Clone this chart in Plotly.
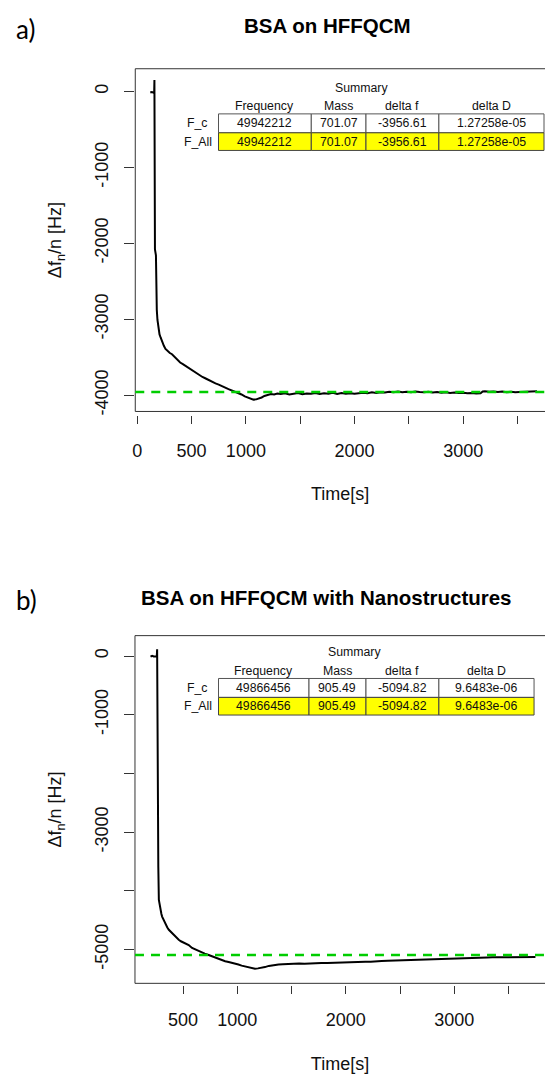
import plotly.graph_objects as go

W, H = 545, 1077

# ---------------- data ----------------
# a) BSA on HFFQCM : time [s] vs frequency shift per overtone [Hz]
time_a = [120, 135, 150, 156, 158, 160, 162, 163, 172, 174, 180, 186, 195, 205, 215, 230, 245,
          260, 280, 300, 320, 345, 370, 395, 420, 450, 480, 510, 540, 570, 600, 630, 660, 690,
          720, 750, 780, 810, 840, 870, 900, 930, 960, 990, 1020, 1045, 1070, 1095, 1120, 1145,
          1170, 1200, 1230, 1260, 1290, 1320, 1360, 1400, 1440, 1480, 1520, 1560, 1600, 1640,
          1680, 1720, 1760, 1800, 1840, 1880, 1920, 1960, 2000, 2040, 2080, 2120, 2160, 2200,
          2240, 2280, 2320, 2360, 2400, 2440, 2480, 2520, 2560, 2600, 2640, 2680, 2720, 2760,
          2800, 2840, 2880, 2920, 2960, 3000, 3040, 3080, 3120, 3160, 3180, 3200, 3240, 3280,
          3320, 3360, 3400, 3440, 3480, 3520, 3560, 3600, 3640, 3680]
freq_a = [-15, -8, -18, -10, 150, -300, -1500, -2080, -2160, -2800, -2880, -3010, -3140, -3200,
          -3240, -3300, -3350, -3390, -3420, -3445, -3460, -3500, -3540, -3570, -3590, -3620,
          -3650, -3680, -3700, -3735, -3760, -3780, -3805, -3820, -3845, -3860, -3885, -3900,
          -3920, -3935, -3950, -3970, -3990, -4015, -4035, -4050, -4058, -4055, -4045, -4030,
          -4010, -3995, -3985, -3990, -3978, -3985, -3975, -3990, -3980, -3970, -3988, -3978,
          -3982, -3970, -3985, -3975, -3980, -3968, -3985, -3972, -3980, -3975, -3982, -3970,
          -3968, -3975, -3962, -3970, -3960, -3965, -3955, -3960, -3952, -3962, -3955, -3960,
          -3950, -3958, -3962, -3955, -3965, -3958, -3968, -3960, -3970, -3965, -3972, -3968,
          -3975, -3970, -3978, -3975, -3950, -3948, -3955, -3950, -3958, -3952, -3960, -3955,
          -3962, -3958, -3955, -3950, -3955, -3948]

# b) BSA on HFFQCM with Nanostructures
time_b = [200, 215, 230, 245, 258, 261, 263, 265, 267, 272, 277, 285, 292, 300, 307, 315, 323,
          340, 355, 369, 385, 399, 420, 440, 460, 480, 500, 525, 552, 583, 610, 640, 670, 700,
          736, 770, 800, 830, 858, 888, 920, 950, 980, 1010, 1040, 1072, 1100, 1130, 1163, 1190,
          1220, 1255, 1290, 1320, 1347, 1380, 1420, 1470, 1520, 1570, 1620, 1670, 1720, 1775,
          1830, 1880, 1930, 1980, 2030, 2081, 2130, 2180, 2230, 2280, 2330, 2387, 2440, 2490,
          2540, 2590, 2640, 2693, 2740, 2790, 2840, 2890, 2940, 2998, 3050, 3100, 3150, 3200,
          3250, 3304, 3350, 3400, 3450, 3500, 3550, 3600, 3650, 3700, 3748]
freq_b = [-10, 5, -8, 0, -5, 115, -500, -2500, -3336, -3600, -4156, -4260, -4326, -4390, -4440,
          -4475, -4500, -4580, -4625, -4665, -4695, -4725, -4770, -4805, -4835, -4860, -4880,
          -4900, -4925, -4975, -5000, -5025, -5050, -5070, -5095, -5120, -5140, -5160, -5175,
          -5200, -5215, -5225, -5235, -5255, -5275, -5290, -5305, -5318, -5328, -5322, -5315,
          -5300, -5280, -5268, -5260, -5255, -5250, -5243, -5248, -5238, -5242, -5235, -5240,
          -5232, -5230, -5225, -5228, -5220, -5222, -5215, -5212, -5208, -5210, -5200, -5196,
          -5192, -5188, -5185, -5182, -5180, -5176, -5175, -5170, -5165, -5162, -5160, -5155,
          -5153, -5150, -5145, -5142, -5140, -5138, -5136, -5134, -5135, -5132, -5134, -5130,
          -5132, -5128, -5131, -5130]

# summary tables
table_cols = ["Frequency", "Mass", "delta f", "delta D"]
table_rows = ["F_c", "F_All"]
summary_a = ["49942212", "701.07", "-3956.61", "1.27258e-05"]
summary_b = ["49866456", "905.49", "-5094.82", "9.6483e-06"]

titles = ["BSA on HFFQCM", "BSA on HFFQCM with Nanostructures"]
panel_tags = ["a)", "b)"]
x_title = "Time[s]"
y_title = "\u0394f<sub>n</sub>/n [Hz]"

# labelled ticks and bare ticks (labels dropped where they would collide)
x_ticks_a = [0, 500, 1000, 2000, 3000]
x_bare_a = [1500, 2500, 3500]
x_ticks_b = [500, 1000, 2000, 3000]
x_bare_b = [1500, 2500, 3500]
y_ticks_a = [0, -1000, -2000, -3000, -4000]
y_bare_a = []
y_ticks_b = [0, -1000, -3000, -5000]
y_bare_b = [-2000, -4000]


# ---------------- helpers (pixel -> paper) ----------------
def px(x):
    return x / W


def py(y):
    return 1 - y / H


FONT = "Liberation Sans, Arial, sans-serif"
TICK_FONT = dict(family=FONT, size=18, color="#111")
FRAME = "#333"

panels = [
    dict(time=time_a, freq=freq_a, summary=summary_a, title=titles[0], tag=panel_tags[0],
         box=(133, 69, 545, 413), axis_y=416.5,
         xrange=[-18.3, 3753.5], yrange=[-4214, 297.7],
         xticks=x_ticks_a, xbare=x_bare_a, yticks=y_ticks_a, ybare=y_bare_a,
         title_xy=(326, 25.5), tag_xy=(23, 29),
         col_edges=[216.7, 310, 365, 438.3, 544], row_edges=[114.3, 133.3, 151],
         header_y=106.7, summary_xy=(360, 88), rowlab_x=196),
    dict(time=time_b, freq=freq_b, summary=summary_b, title=titles[1], tag=panel_tags[1],
         box=(132.7, 638, 545, 987), axis_y=988.5,
         xrange=[56.8, 3836], yrange=[-5577, 348],
         xticks=x_ticks_b, xbare=x_bare_b, yticks=y_ticks_b, ybare=y_bare_b,
         title_xy=(325, 600), tag_xy=(24, 602),
         col_edges=[216.7, 307.7, 365, 438.3, 534], row_edges=[681, 700, 717.7],
         header_y=673.3, summary_xy=(353, 654), rowlab_x=196),
]

fig = go.Figure()
shapes = []
annotations = []
layout_axes = {}

for i, p in enumerate(panels):
    n = "" if i == 0 else str(i + 1)
    xa, ya = "x" + n, "y" + n
    left, top, right, bottom = p["box"]

    fig.add_trace(go.Scatter(
        x=p["time"], y=p["freq"], mode="lines",
        line=dict(color="black", width=2),
        xaxis=xa, yaxis=ya, showlegend=False, hoverinfo="skip"))

    layout_axes["xaxis" + n] = dict(
        domain=[px(left), px(right)], range=p["xrange"], anchor="free",
        position=py(p["axis_y"]), showline=False, showgrid=False, zeroline=False,
        ticks="outside", ticklen=8, tickwidth=1, tickcolor=FRAME,
        tickmode="array", tickvals=p["xticks"], ticktext=[str(v) for v in p["xticks"]],
        tickfont=TICK_FONT, ticklabelstandoff=11, fixedrange=True,
        title=dict(text=x_title, standoff=27, font=dict(family=FONT, size=18, color="#111")),
        minor=dict(tickmode="array", tickvals=p["xbare"], ticks="outside", ticklen=8,
                   tickwidth=1, tickcolor=FRAME, showgrid=False))
    layout_axes["yaxis" + n] = dict(
        domain=[py(bottom), py(top)], range=p["yrange"], anchor=xa,
        showline=False, showgrid=False, zeroline=False,
        ticks="outside", ticklen=10, tickwidth=1, tickcolor=FRAME,
        tickmode="array", tickvals=p["yticks"], ticktext=[str(v) for v in p["yticks"]],
        tickfont=TICK_FONT, tickangle=-90, ticklabelstandoff=9, fixedrange=True,
        title=dict(text=y_title, standoff=25, font=dict(family=FONT, size=18, color="#111")),
        minor=dict(tickmode="array", tickvals=p["ybare"], ticks="outside", ticklen=10,
                   tickwidth=1, tickcolor=FRAME, showgrid=False))

    # plot frame (right side lies past the page edge)
    for x0, y0, x1, y1 in [(left, top, right, top), (left, top, left, bottom),
                           (left, bottom, right, bottom)]:
        shapes.append(dict(type="line", xref="paper", yref="paper",
                           x0=px(x0), y0=py(y0), x1=px(x1), y1=py(y1),
                           line=dict(color=FRAME, width=1)))

    # reference line at the summary's delta f
    delta_f = float(p["summary"][2])
    shapes.append(dict(type="line", xref=xa + " domain", yref=ya,
                       x0=0, x1=1, y0=delta_f, y1=delta_f,
                       line=dict(color="rgb(0,205,0)", width=2.5, dash="9px,7px")))

    # panel title and tag
    annotations.append(dict(text="<b>%s</b>" % p["title"], x=px(p["title_xy"][0]),
                            y=py(p["title_xy"][1]), xref="paper", yref="paper",
                            showarrow=False, xanchor="center", yanchor="middle",
                            font=dict(family=FONT, size=20.5, color="black")))
    annotations.append(dict(text=p["tag"], x=px(p["tag_xy"][0]), y=py(p["tag_xy"][1]),
                            xref="paper", yref="paper", showarrow=False,
                            xanchor="center", yanchor="middle",
                            font=dict(family="Lato, Open Sans, sans-serif", size=26,
                                      color="black")))

    # summary table
    ce, re_ = p["col_edges"], p["row_edges"]
    tfont = dict(family=FONT, size=12.3, color="#111")
    annotations.append(dict(text="Summary", x=px(p["summary_xy"][0]),
                            y=py(p["summary_xy"][1]), xref="paper", yref="paper",
                            showarrow=False, xanchor="center", yanchor="middle",
                            font=tfont))
    for c, name in enumerate(table_cols):
        cx = (ce[c] + ce[c + 1]) / 2
        annotations.append(dict(text=name, x=px(cx), y=py(p["header_y"]),
                                xref="paper", yref="paper", showarrow=False,
                                xanchor="center", yanchor="middle", font=tfont))
    for r, rname in enumerate(table_rows):
        ry = (re_[r] + re_[r + 1]) / 2
        annotations.append(dict(text=rname, x=px(p["rowlab_x"]), y=py(ry),
                                xref="paper", yref="paper", showarrow=False,
                                xanchor="center", yanchor="middle", font=tfont))
        fill = "white" if r == 0 else "#FFFF00"
        edge = "#555" if r == 0 else "#444"
        for c in range(len(table_cols)):
            shapes.append(dict(type="rect", xref="paper", yref="paper",
                               x0=px(ce[c]), x1=px(ce[c + 1]),
                               y0=py(re_[r + 1]), y1=py(re_[r]),
                               fillcolor=fill, line=dict(color=edge, width=1),
                               layer="above"))
            annotations.append(dict(text=p["summary"][c], x=px((ce[c] + ce[c + 1]) / 2),
                                    y=py(ry), xref="paper", yref="paper",
                                    showarrow=False, xanchor="center",
                                    yanchor="middle", font=tfont))

fig.update_layout(
    width=W, height=H,
    margin=dict(l=0, r=0, t=0, b=0),
    paper_bgcolor="white", plot_bgcolor="white",
    showlegend=False,
    shapes=shapes, annotations=annotations,
    **layout_axes,
)

fig.write_html("out.html", config={"displayModeBar": False})
